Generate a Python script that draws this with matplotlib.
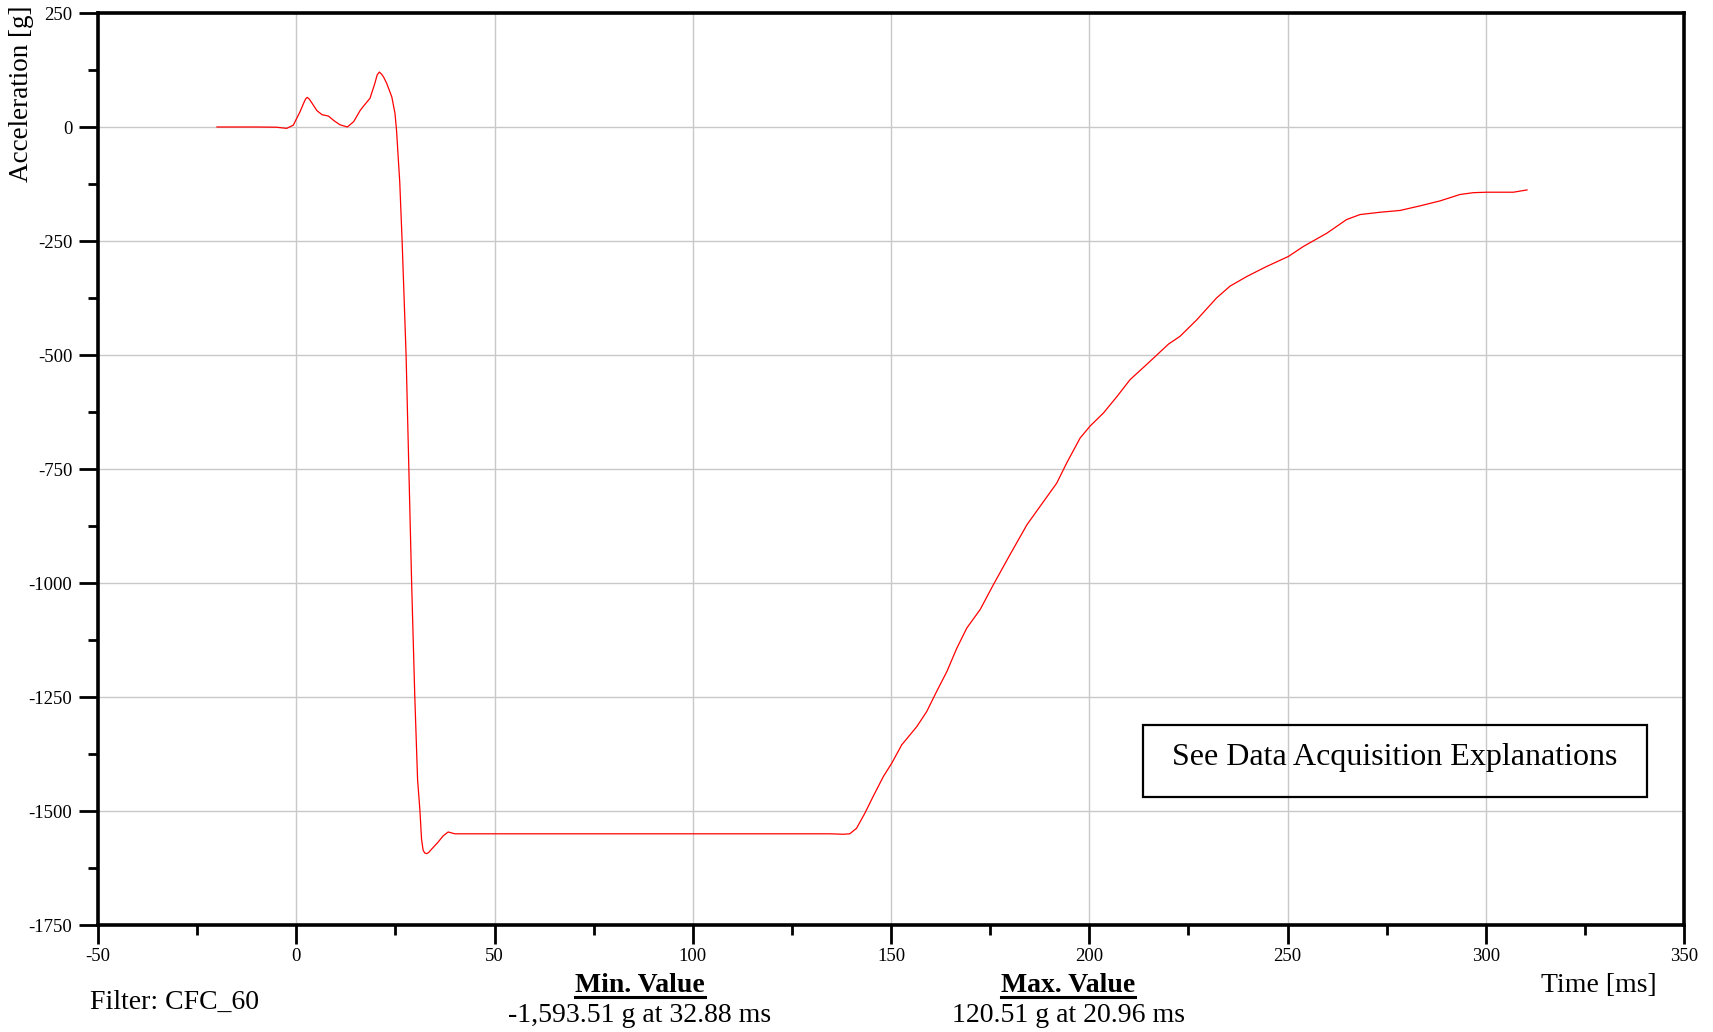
import matplotlib.pyplot as plt
import numpy as np
from matplotlib.ticker import MultipleLocator
from matplotlib.patches import Rectangle
from matplotlib.lines import Line2D

plt.rcParams['font.family'] = ['Liberation Serif', 'DejaVu Serif']
plt.rcParams['axes.unicode_minus'] = False

# acceleration trace (time ms, acceleration g)
time_ms = [-20, -10, -5, -2.4, -0.75, 0.93, 2.0, 2.4, 2.78, 3.3, 4.0, 5.2, 6.5, 8.1, 9.5, 11.0, 12.9,
           14.5, 16.1, 16.9, 18.6, 19.8, 20.4, 20.96, 21.5, 22.0, 22.8, 24.1, 24.9, 25.3, 25.7, 26.1,
           26.7, 27.7, 28.4, 29.1, 29.9, 30.6, 31.2, 31.6, 32.0, 32.4, 32.88, 33.4, 34.0, 35.8, 37.0,
           38.3, 40.0, 60, 80, 100, 120, 134.6, 138.0, 139.6, 141.3, 143.4, 145.5, 148.1,
           150.2, 152.7, 156.5, 159.0, 161.5, 164.1, 166.6, 169.1, 172.5, 175.8, 180.0,
           184.3, 188.5, 191.8, 194.3, 197.7, 200.2, 203.6, 207.0, 210.3, 214.7, 220.0,
           222.9, 227.1, 232.1, 235.5, 239.7, 244.7, 250.2, 254.0, 259.9, 264.9, 268.3,
           273.3, 278.4, 283.4, 288.5, 293.5, 296.9, 300.3, 307.0, 310.4]
accel_g = [0, 0, -0.5, -3, 4, 33, 55, 62, 65, 61, 52, 36, 27, 24, 14, 5, 0,
           12, 36, 45, 63, 95, 114, 120.51, 116, 110, 96, 66, 30, -8, -65, -120,
           -250, -500, -750, -1000, -1250, -1431, -1500, -1562, -1586, -1592, -1593.51, -1591, -1585, -1568, -1555,
           -1546, -1550, -1550, -1550, -1550, -1550, -1550, -1551, -1550, -1538, -1505, -1468, -1424,
           -1395, -1355, -1315, -1282, -1238, -1194, -1143, -1099, -1058, -1004, -938,
           -872, -821, -781, -737, -682, -656, -627, -591, -554, -519, -476,
           -459, -423, -375, -349, -328, -306, -284, -262, -233, -203, -192,
           -187, -183, -173, -162, -148, -144, -143, -143, -138]

W, H = 1713, 1032
fig = plt.figure(figsize=(W / 100, H / 100), dpi=100)
ax = fig.add_axes([98 / W, 1 - 925 / H, (1684 - 98) / W, (925 - 13) / H])

ax.plot(time_ms, accel_g, color='#ff0000', linewidth=0.9)

ax.set_xlim(-50, 350)
ax.set_ylim(-1750, 250)
ax.xaxis.set_major_locator(MultipleLocator(50))
ax.xaxis.set_minor_locator(MultipleLocator(25))
ax.yaxis.set_major_locator(MultipleLocator(250))
ax.yaxis.set_minor_locator(MultipleLocator(125))
ax.grid(True, which='major', color='#c8c8c8', linewidth=1.0)
ax.set_axisbelow(True)

for s in ax.spines.values():
    s.set_linewidth(2.6)
ax.tick_params(which='major', length=13.5, width=2.0, labelsize=13.5, pad=3)
ax.tick_params(which='minor', length=7, width=2.0)
ax.tick_params(axis='y', pad=5)

# axis titles and footer texts
fig.text(22 / W, 1 - 5 / H, 'Acceleration [g]', rotation=90, ha='center', va='top', fontsize=19.5)
fig.text(1657 / W, 1 - 985 / H, 'Time [ms]', ha='right', va='center', fontsize=20)
fig.text(90 / W, 1 - 1002 / H, 'Filter: CFC_60', ha='left', va='center', fontsize=20)

heads = []
heads.append(fig.text(640 / W, 1 - 985 / H, 'Min. Value', ha='center', va='center',
                      fontsize=20, fontweight='bold'))
fig.text(640 / W, 1 - 1016 / H, '-1,593.51 g at 32.88 ms', ha='center', va='center', fontsize=20)
heads.append(fig.text(1068 / W, 1 - 985 / H, 'Max. Value', ha='center', va='center',
                      fontsize=20, fontweight='bold'))
fig.text(1068 / W, 1 - 1016 / H, '120.51 g at 20.96 ms', ha='center', va='center', fontsize=20)

# underline the headings
renderer = fig.canvas.get_renderer()
for t in heads:
    bb = t.get_window_extent(renderer)
    yline = bb.y0 + 1
    fig.add_artist(Line2D([bb.x0 / W, bb.x1 / W], [yline / H, yline / H],
                          transform=fig.transFigure, color='black', linewidth=2.2))

# note box
fig.add_artist(Rectangle((1143 / W, 1 - 797 / H), (1647 - 1143) / W, (797 - 725) / H,
                         transform=fig.transFigure, fill=False, edgecolor='black', linewidth=1.6))
fig.text(1395 / W, 1 - 758 / H, 'See Data Acquisition Explanations', ha='center', va='center',
         fontsize=23)

plt.savefig('out.png', dpi=100)
